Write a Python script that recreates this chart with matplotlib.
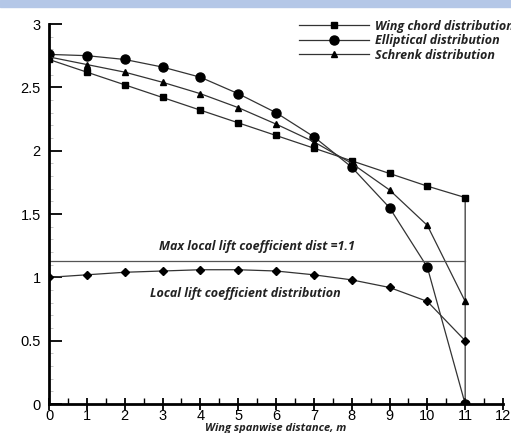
import matplotlib
matplotlib.use('Agg')
import matplotlib.pyplot as plt
from matplotlib.ticker import MultipleLocator
import matplotlib.patches as mpatches

# spanwise stations, m
span = [0, 1, 2, 3, 4, 5, 6, 7, 8, 9, 10, 11]
# wing chord (drops to 0 at the tip)
chord_x = span + [11]
chord = [2.72, 2.62, 2.52, 2.42, 2.32, 2.22, 2.12, 2.02, 1.92, 1.82, 1.72, 1.63, 0.0]
elliptical = [2.76, 2.75, 2.72, 2.66, 2.58, 2.45, 2.30, 2.11, 1.87, 1.55, 1.08, 0.0]
schrenk = [2.74, 2.68, 2.62, 2.54, 2.45, 2.34, 2.21, 2.07, 1.90, 1.69, 1.41, 0.81]
local_cl = [1.00, 1.02, 1.04, 1.05, 1.06, 1.06, 1.05, 1.02, 0.98, 0.92, 0.81, 0.50]
max_cl_x = [0, 11]
max_cl = [1.13, 1.13]

W, H = 511, 433
fig = plt.figure(figsize=(W / 100, H / 100), dpi=100)
# blue band on top of the screenshot
fig.patches.append(mpatches.Rectangle((0, 1 - 7 / H), 1, 7 / H, transform=fig.transFigure,
                                      color='#b4c7e7', zorder=0))

ax = fig.add_axes([49 / W, 29 / H, 454 / W, 380 / H])
ax.set_xlim(0, 12)
ax.set_ylim(0, 3)

lc = '#333333'
ax.plot(chord_x, chord, color=lc, lw=0.9, marker='s', ms=4.5, mfc='black', mec='black',
        label='Wing chord distribution')
ax.plot(span, elliptical, color=lc, lw=0.9, marker='o', ms=6.5, mfc='black', mec='black',
        label='Elliptical distribution')
ax.plot(span, schrenk, color=lc, lw=0.9, marker='^', ms=4.5, mfc='black', mec='black',
        label='Schrenk distribution')
ax.plot(span, local_cl, color=lc, lw=0.9, marker='D', ms=4, mfc='black', mec='black')
ax.plot(max_cl_x, max_cl, color='#555555', lw=0.9)

tfont = dict(family='Open Sans', weight='bold', style='italic', color='#222222')
ax.text(5.5, 1.24, 'Max local lift coefficient dist =1.1', ha='center', va='center',
        fontsize=9, **tfont)
ax.text(5.2, 0.875, 'Local lift coefficient distribution', ha='center', va='center',
        fontsize=9, **tfont)
ax.set_xlabel('Wing spanwise distance, m', fontsize=8, labelpad=0, **tfont)

leg = ax.legend(loc='upper left', bbox_to_anchor=(245 / 454, 1.025), frameon=False,
                handlelength=5.6, handletextpad=0.5, labelspacing=0.12, borderaxespad=0,
                prop=dict(family='Open Sans', weight='bold', style='italic', size=9))
for t in leg.get_texts():
    t.set_color('#222222')

for s in ['top', 'right']:
    ax.spines[s].set_visible(False)
for s in ['left', 'bottom']:
    ax.spines[s].set_linewidth(2)

ax.xaxis.set_major_locator(MultipleLocator(1))
ax.xaxis.set_minor_locator(MultipleLocator(0.5))
ax.yaxis.set_major_locator(MultipleLocator(0.5))
ax.yaxis.set_minor_locator(MultipleLocator(0.1))
ax.tick_params(axis='x', which='major', direction='inout', length=9, width=1.3, pad=-1,
               labelsize=10.5)
ax.tick_params(axis='x', which='minor', direction='in', length=4, width=1)
ax.tick_params(axis='y', which='major', direction='in', length=9, width=1.3, pad=6,
               labelsize=10.5)
ax.tick_params(axis='y', which='minor', direction='in', length=3, width=0.6, color='#bbbbbb')
ax.set_yticks([0, 0.5, 1, 1.5, 2, 2.5, 3])
ax.set_yticklabels(['0', '0.5', '1', '1.5', '2', '2.5', '3'])

for lab in ax.get_xticklabels() + ax.get_yticklabels():
    lab.set_family('Liberation Sans')

fig.savefig('out.png', dpi=100)
